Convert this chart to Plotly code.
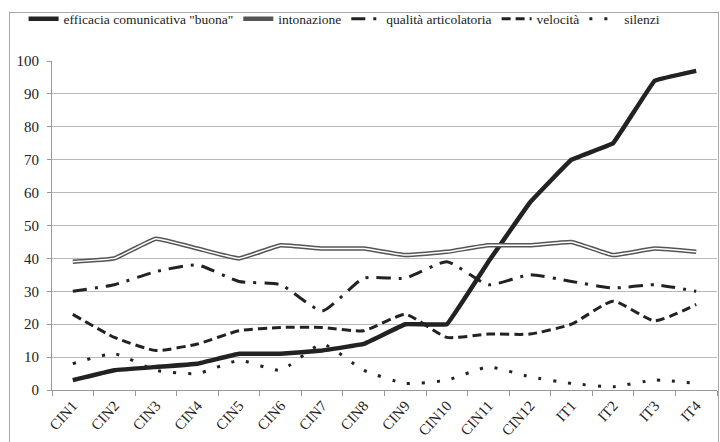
import plotly.graph_objects as go

categories = ["CIN1", "CIN2", "CIN3", "CIN4", "CIN5", "CIN6", "CIN7", "CIN8",
              "CIN9", "CIN10", "CIN11", "CIN12", "IT1", "IT2", "IT3", "IT4"]
efficacia = [3, 6, 7, 8, 11, 11, 12, 14, 20, 20, 39, 57, 70, 75, 94, 97]
intonazione = [39, 40, 46, 43, 40, 44, 43, 43, 41, 42, 44, 44, 45, 41, 43, 42]
qualita = [30, 32, 36, 38, 33, 32, 24, 34, 34, 39, 32, 35, 33, 31, 32, 30]
velocita = [23, 16, 12, 14, 18, 19, 19, 18, 23, 16, 17, 17, 20, 27, 21, 26]
silenzi = [8, 11, 6, 5, 9, 6, 14, 6, 2, 3, 7, 4, 2, 1, 3, 2]
y_ticks = list(range(0, 101, 10))

dark = "#222222"
fig = go.Figure()
fig.add_trace(go.Scatter(x=categories, y=efficacia, mode="lines",
                         name='efficacia comunicativa "buona"',
                         line=dict(color=dark, width=4.5, shape="spline", smoothing=0.15)))
fig.add_trace(go.Scatter(x=categories, y=intonazione, mode="lines", name="intonazione",
                         line=dict(color="#555555", width=4.5, shape="spline", smoothing=0.3)))
fig.add_trace(go.Scatter(x=categories, y=intonazione, mode="lines", showlegend=False,
                         hoverinfo="skip",
                         line=dict(color="white", width=1.5, shape="spline", smoothing=0.3)))
fig.add_trace(go.Scatter(x=categories, y=qualita, mode="lines", name="qualità articolatoria",
                         line=dict(color=dark, width=3, dash="14px,8px,3px,8px",
                                   shape="spline", smoothing=0.5)))
fig.add_trace(go.Scatter(x=categories, y=velocita, mode="lines", name="velocità",
                         line=dict(color=dark, width=3, dash="9px,5px",
                                   shape="spline", smoothing=0.5)))
fig.add_trace(go.Scatter(x=categories, y=silenzi, mode="lines", name="silenzi",
                         line=dict(color=dark, width=3, dash="3px,12px",
                                   shape="spline", smoothing=0.5)))

serif = "Liberation Serif"
fig.update_layout(
    width=720, height=442,
    margin=dict(l=52, r=3, t=61, b=52),
    paper_bgcolor="white", plot_bgcolor="white",
    font=dict(family=serif, size=15, color="#222222"),
    showlegend=True,
    legend=dict(orientation="h", x=0.44, xanchor="center", y=1.128, yanchor="middle",
                font=dict(family=serif, size=13.5, color="#222222"), itemwidth=30,
                bgcolor="rgba(0,0,0,0)", tracegroupgap=0),
    xaxis=dict(type="category", tickangle=-48, showgrid=False,
               showline=True, linecolor="#999999", linewidth=1,
               ticks="outside", ticklen=5, tickcolor="#999999", tickson="boundaries",
               tickfont=dict(family=serif, size=15, color="#222222"),
               automargin=False, range=[-0.5, 15.5]),
    yaxis=dict(range=[0, 100], tickvals=y_ticks, showgrid=True, gridcolor="#b8b8b8",
               gridwidth=1, showline=True, linecolor="#999999", linewidth=1,
               ticks="outside", ticklen=4, tickcolor="#999999", ticklabelstandoff=5,
               zeroline=False, automargin=False,
               tickfont=dict(family=serif, size=15, color="#222222")),
)

frame_js = (
    "document.documentElement.style.overflow='hidden';"
    "document.body.style.margin='0';document.body.style.overflow='hidden';"
    "var d=document.createElement('div');"
    "d.style.cssText='position:absolute;left:9px;top:12px;width:708px;height:440px;"
    "border:1px solid #a8a8a8;pointer-events:none;box-sizing:content-box;';"
    "document.body.appendChild(d);"
)
fig.write_html("out.html", config={"displayModeBar": False}, post_script=frame_js)
